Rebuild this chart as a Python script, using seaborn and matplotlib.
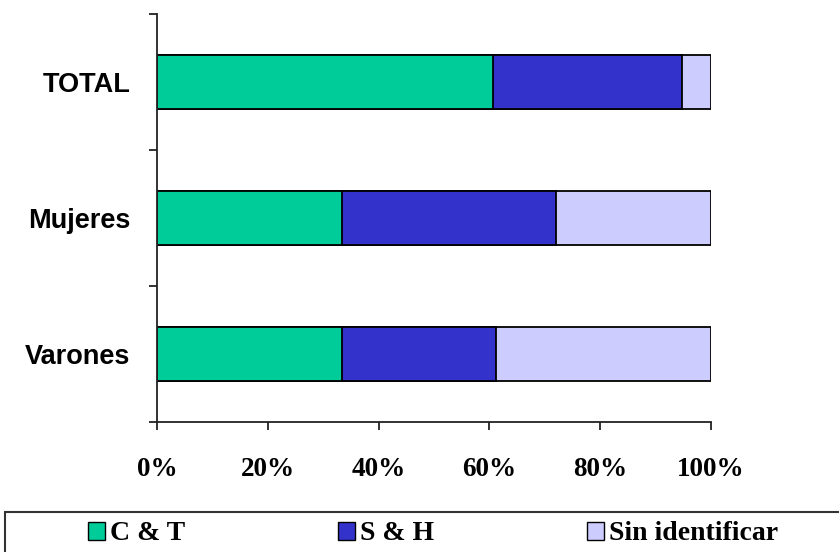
import matplotlib
matplotlib.use("Agg")
import matplotlib.pyplot as plt
import matplotlib.patches as mpatches
import seaborn as sns
import pandas as pd

# data (percent of each group)
categories = ["TOTAL", "Mujeres", "Varones"]
ct_vals = [60.6, 33.4, 33.4]
sh_vals = [34.2, 38.6, 27.8]
sin_vals = [5.2, 28.0, 38.8]
series_names = ["C & T", "S & H", "Sin identificar"]
x_ticks = [0, 20, 40, 60, 80, 100]
x_labels = ["0%", "20%", "40%", "60%", "80%", "100%"]

colors = ["#00CC99", "#3333CC", "#CCCCFF"]

sns.set_theme(style="white")
plt.rcParams["text.color"] = "black"
plt.rcParams["xtick.color"] = "black"
plt.rcParams["ytick.color"] = "black"

df = pd.DataFrame({"cat": categories, "ct": ct_vals, "sh": sh_vals, "sin": sin_vals})
df["cum_ct"] = df["ct"]
df["cum_sh"] = df["ct"] + df["sh"]
df["cum_sin"] = df["ct"] + df["sh"] + df["sin"]

fig = plt.figure(figsize=(8.39, 5.52), dpi=100)
ax = fig.add_axes([157 / 839, 1 - 422 / 552, 554 / 839, 408 / 552])

# stacked bars drawn as layered cumulative bars, longest first
for col, c in zip(["cum_sin", "cum_sh", "cum_ct"], colors[::-1]):
    sns.barplot(data=df, x=col, y="cat", orient="h", color=c, saturation=1,
                edgecolor="black", linewidth=1.3, width=0.4, ax=ax)

ax.set_xlim(0, 100)
ax.set_ylim(2.5, -0.5)
ax.set_xlabel("")
ax.set_ylabel("")

ax.set_xticks(x_ticks)
ax.set_xticklabels(x_labels, fontfamily="Liberation Serif", fontweight="bold", fontsize=19.5, color="black")
ax.set_yticks(range(len(categories)))
ax.set_yticklabels(categories, fontfamily="Liberation Sans", fontweight="bold", fontsize=19.5, color="black")
ax.set_yticks([-0.5, 0.5, 1.5, 2.5], minor=True)

ax.tick_params(axis="y", which="major", length=0, pad=19)
ax.tick_params(axis="y", which="minor", length=6, width=1.3, color="#222222", direction="out", left=True)
ax.tick_params(axis="x", which="major", length=6, width=1.3, color="#222222", direction="out", bottom=True, pad=19)

for s in ["top", "right"]:
    ax.spines[s].set_visible(False)
for s in ["left", "bottom"]:
    ax.spines[s].set_color("#222222")
    ax.spines[s].set_linewidth(1.3)

# legend box at the bottom (runs off the figure edge)
frame = mpatches.Rectangle((5 / 839, -0.05), 1.0, 1 - 512 / 552 + 0.05,
                           transform=fig.transFigure, fill=False,
                           edgecolor="#333333", linewidth=1.5)
fig.patches.append(frame)

handles = [mpatches.Patch(facecolor=c, edgecolor="black", linewidth=1.0) for c in colors]
fig.legend(handles, series_names, loc="center left",
           bbox_to_anchor=(88 / 839, 1 - 534 / 552), ncol=3, frameon=False,
           prop={"family": "Liberation Serif", "weight": "bold", "size": 20},
           handlelength=0.6, handleheight=0.6, handletextpad=0.2,
           columnspacing=5.5, borderpad=0, borderaxespad=0)

fig.savefig("out.png", dpi=100)
